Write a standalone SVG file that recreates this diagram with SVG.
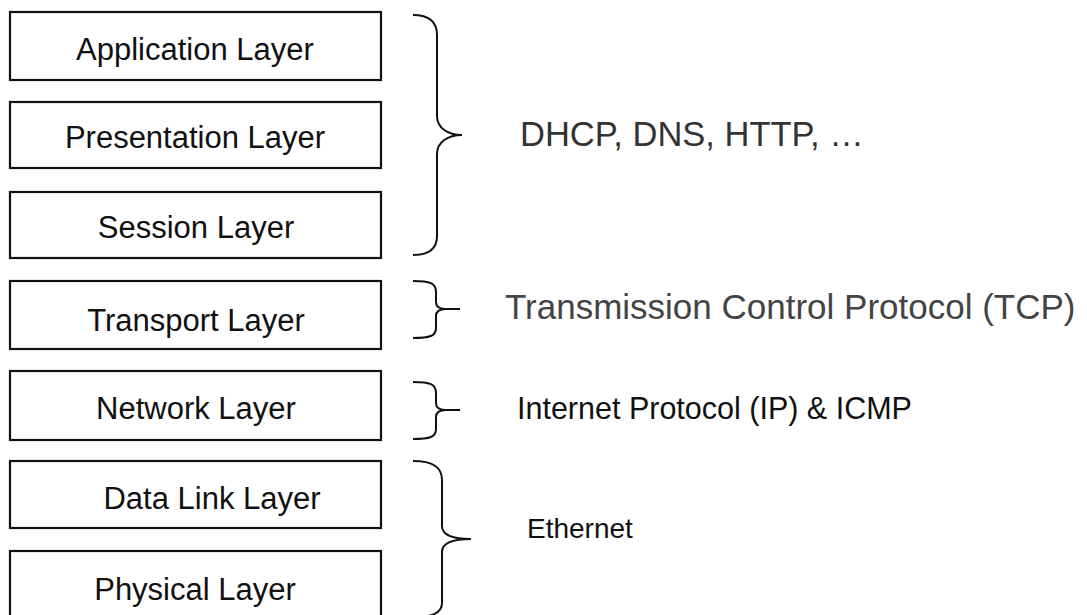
<svg xmlns="http://www.w3.org/2000/svg" width="1087" height="615" viewBox="0 0 1087 615">
<style>
.box{fill:#fff;stroke:#111;stroke-width:2.2}
.lbl{font-family:"Liberation Sans",Arial,sans-serif;font-size:31px;fill:#111;text-anchor:middle}
.brace{fill:none;stroke:#111;stroke-width:2}
.proto{font-family:"Liberation Sans",Arial,sans-serif}
</style>
<rect width="1087" height="615" fill="#fff"/>
<g id="application"><rect class="box" x="10" y="12" width="371" height="68"/><text class="lbl" x="195" y="60">Application Layer</text></g>
<g id="presentation"><rect class="box" x="10" y="102" width="371" height="66"/><text class="lbl" x="195" y="148">Presentation Layer</text></g>
<g id="session"><rect class="box" x="10" y="192" width="371" height="66"/><text class="lbl" x="196" y="238">Session Layer</text></g>
<g id="transport"><rect class="box" x="10" y="281" width="371" height="68"/><text class="lbl" x="196" y="331">Transport Layer</text></g>
<g id="network"><rect class="box" x="10" y="371" width="371" height="69"/><text class="lbl" x="196" y="419">Network Layer</text></g>
<g id="datalink"><rect class="box" x="10" y="461" width="371" height="67"/><text class="lbl" x="212" y="509">Data Link Layer</text></g>
<g id="physical"><rect class="box" x="10" y="551" width="371" height="80"/><text class="lbl" x="195" y="600">Physical Layer</text></g>
<g id="connectors">
<path class="brace" d="M413,15 C430,15 437,22 437,35 L437,116 C437,128 448,135 462,135 C448,135 437,142 437,154 L437,236 C437,248 430,255 413,255"/>
<path class="brace" d="M413,281 C430,281 436,283 436,292 L436,302 C436,307 440,309 446,309 L460,309 M446,309 C440,309 436,311 436,316 L436,328 C436,336 430,338 413,338"/>
<path class="brace" d="M413,382 C430,382 436,384 436,393 L436,403 C436,408 440,410 446,410 L460,410 M446,410 C440,410 436,412 436,417 L436,429 C436,437 430,439 413,439"/>
<path class="brace" d="M413,461 C433,461 442,467 442,480 L442,526 C442,535 452,539 471,539 C452,539 442,543 442,552 L442,603 C442,613 432,617 413,618"/>
</g>
<g id="label-app"><text class="proto" x="520" y="146" font-size="34.5" fill="#333">DHCP, DNS, HTTP, …</text></g>
<g id="label-tcp"><text class="proto" x="505" y="319" font-size="35" fill="#444">Transmission Control Protocol (TCP)</text></g>
<g id="label-ip"><text class="proto" x="517" y="419" font-size="30.5" fill="#111">Internet Protocol (IP) &amp; ICMP</text></g>
<g id="label-eth"><text class="proto" x="527" y="538" font-size="28" fill="#111">Ethernet</text></g>
</svg>
